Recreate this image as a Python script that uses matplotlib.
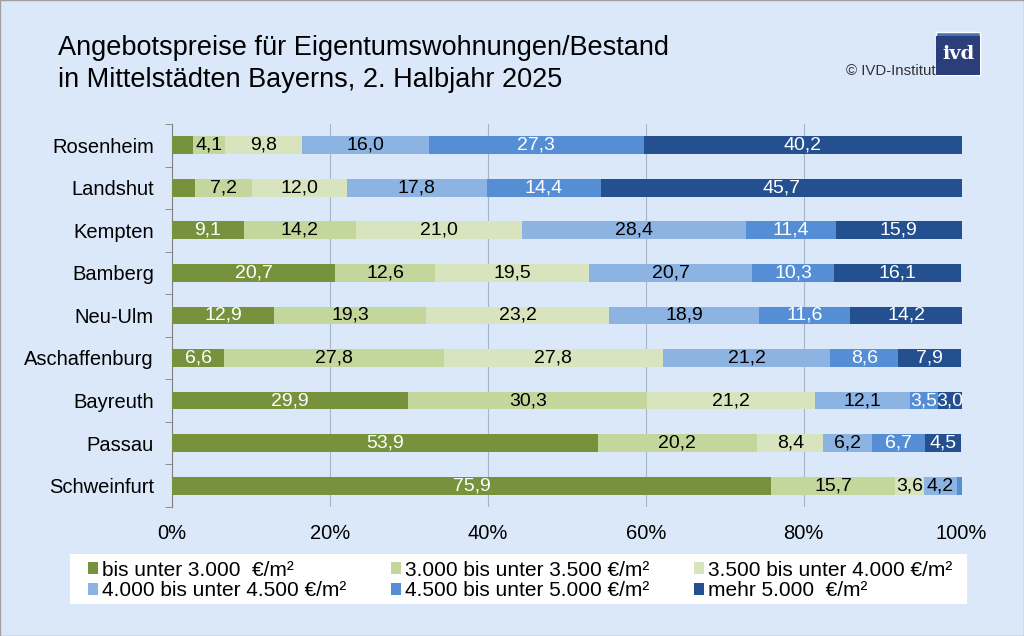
import matplotlib.pyplot as plt
import numpy as np
from matplotlib.patches import Rectangle

plt.rcParams['font.family'] = ['Liberation Sans', 'DejaVu Sans']

cities = ['Rosenheim', 'Landshut', 'Kempten', 'Bamberg', 'Neu-Ulm',
          'Aschaffenburg', 'Bayreuth', 'Passau', 'Schweinfurt']
categories = ['bis unter 3.000  €/m²', '3.000 bis unter 3.500 €/m²', '3.500 bis unter 4.000 €/m²',
              '4.000 bis unter 4.500 €/m²', '4.500 bis unter 5.000 €/m²', 'mehr 5.000  €/m²']

bis_3000 = [2.6, 2.9, 9.1, 20.7, 12.9, 6.6, 29.9, 53.9, 75.9]
von_3000 = [4.1, 7.2, 14.2, 12.6, 19.3, 27.8, 30.3, 20.2, 15.7]
von_3500 = [9.8, 12.0, 21.0, 19.5, 23.2, 27.8, 21.2, 8.4, 3.6]
von_4000 = [16.0, 17.8, 28.4, 20.7, 18.9, 21.2, 12.1, 6.2, 4.2]
von_4500 = [27.3, 14.4, 11.4, 10.3, 11.6, 8.6, 3.5, 6.7, 0.6]
mehr_5000 = [40.2, 45.7, 15.9, 16.1, 14.2, 7.9, 3.0, 4.5, 0.0]

series = [bis_3000, von_3000, von_3500, von_4000, von_4500, mehr_5000]
colors = ['#76923C', '#C3D69B', '#D7E4BD', '#8DB3E2', '#558ED5', '#24508F']
text_colors = ['white', 'black', 'black', 'black', 'white', 'white']

bg = '#DBE8FA'
fig = plt.figure(figsize=(10.24, 6.36), dpi=100, facecolor=bg)
ax = fig.add_axes([0.168, 0.203, 0.771, 0.602], facecolor=bg)

y = np.arange(len(cities))
left = np.zeros(len(cities))
handles = []
for vals, col, tc, lab in zip(series, colors, text_colors, categories):
    vals = np.array(vals)
    b = ax.barh(y, vals, left=left, height=0.42, color=col, label=lab, zorder=3)
    handles.append(b)
    for yi, (l, v) in enumerate(zip(left, vals)):
        if v >= 3.0:
            ax.text(l + v / 2, yi, f'{v:.1f}'.replace('.', ','), ha='center', va='center',
                    color=tc, fontsize=14, zorder=4)
    left += vals

ax.set_xlim(0, 100)
ax.set_ylim(len(cities) - 0.5, -0.5)
ax.set_xticks([0, 20, 40, 60, 80, 100])
ax.set_xticklabels(['0%', '20%', '40%', '60%', '80%', '100%'], fontsize=14.5)
ax.set_yticks(y)
ax.set_yticklabels(cities, fontsize=14.5)
ax.set_yticks(np.arange(-0.5, len(cities)), minor=True)
ax.tick_params(axis='y', which='major', length=0, pad=13)
ax.tick_params(axis='y', which='minor', length=5, color='#808080', direction='out')
ax.tick_params(axis='x', length=0, pad=12)
ax.grid(axis='x', color='#A6B4C8', linewidth=0.8, zorder=0)
for s in ['top', 'right', 'bottom']:
    ax.spines[s].set_visible(False)
ax.spines['left'].set_color('#808080')

fig.text(0.057, 0.925, 'Angebotspreise für Eigentumswohnungen/Bestand', fontsize=19.5, va='center')
fig.text(0.057, 0.874, 'in Mittelstädten Bayerns, 2. Halbjahr 2025', fontsize=19.5, va='center')
fig.text(0.914, 0.889, '© IVD-Institut', fontsize=10.8, ha='right', va='center', color='#333333')

# logo
fig.patches.append(Rectangle((0.914, 0.882), 0.043, 0.068, transform=fig.transFigure,
                             facecolor='#3D78B4', edgecolor='white', linewidth=1))
fig.patches.append(Rectangle((0.919, 0.882), 0.038, 0.061, transform=fig.transFigure,
                             facecolor='#2A3F7A', edgecolor='none'))
fig.patches.append(Rectangle((0.914, 0.882), 0.038, 0.061, transform=fig.transFigure,
                             facecolor='#2A3F7A', edgecolor='none'))
fig.text(0.936, 0.915, 'ivd', fontsize=14, fontweight='bold', color='white',
         ha='center', va='center', family='DejaVu Serif')

# legend box
fig.patches.append(Rectangle((0.0684, 0.0503), 0.876, 0.0786, transform=fig.transFigure,
                             facecolor='white', edgecolor='none'))
order = [0, 3, 1, 4, 2, 5]
leg = fig.legend([handles[i] for i in order], [categories[i] for i in order], ncol=3,
                 loc='center', bbox_to_anchor=(0.5083, 0.0873), frameon=False,
                 fontsize=15, handlelength=0.48, handleheight=0.48, handletextpad=0.19,
                 columnspacing=2.15, borderpad=0, labelspacing=0.08)

fig.patches.append(Rectangle((0, 0), 1, 1, transform=fig.transFigure, fill=False,
                             edgecolor='#A0A0A0', linewidth=1))

fig.savefig('out.png', dpi=100, facecolor=bg)
